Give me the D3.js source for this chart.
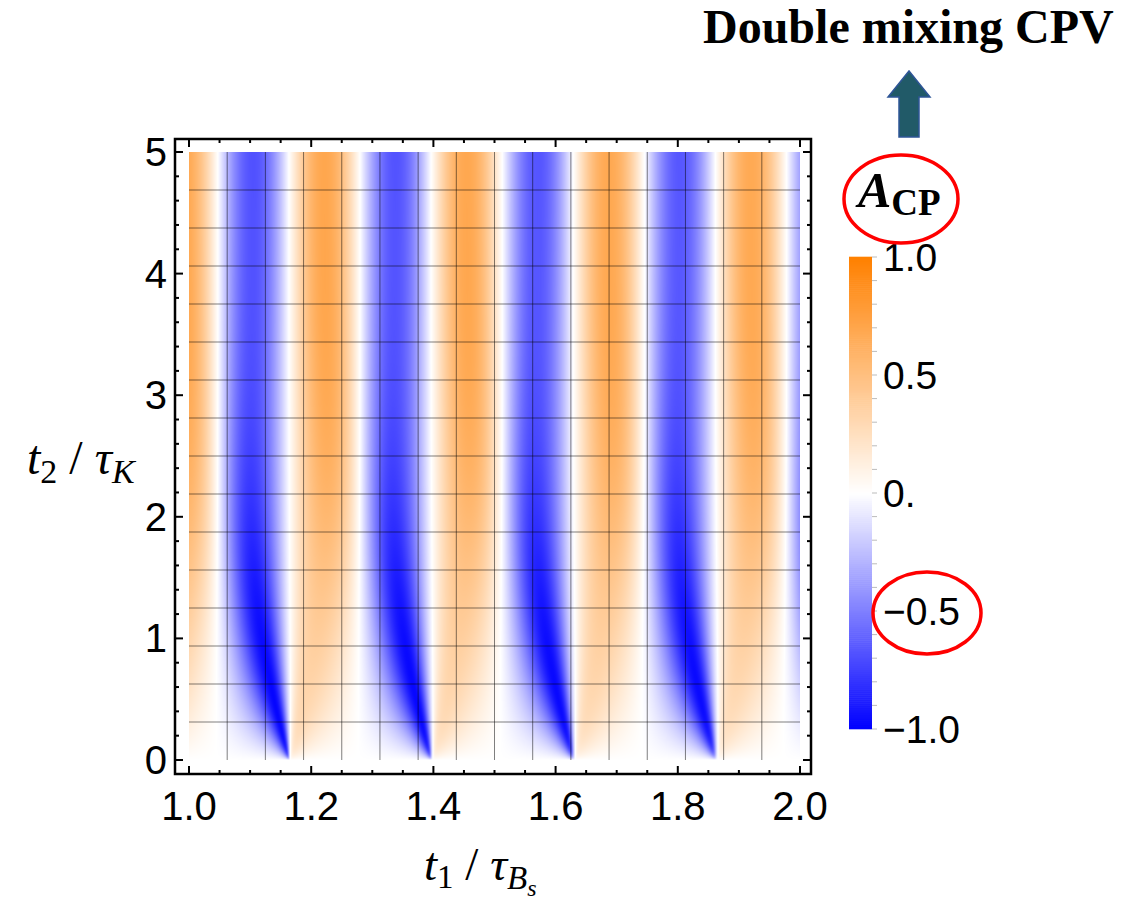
<!DOCTYPE html>
<html><head><meta charset="utf-8">
<script src="https://cdn.jsdelivr.net/npm/d3@7"></script>
<style>body{margin:0;background:#fff} svg{display:block}</style>
</head><body>
<svg width="1130" height="905"></svg>
<script>
// axes, ticks, mesh
const t1Domain = [1, 2];
const t2Domain = [0, 5];
const xMajor = [1.0, 1.2, 1.4, 1.6, 1.8, 2.0];
const xMinor = d3.range(0, 21).map(k => 1 + k * 0.05);
const yMajor = [0, 1, 2, 3, 4, 5];
const yMinor = d3.range(0, 26).map(k => k * 0.2);
const meshT1 = d3.range(1, 16).map(k => 1 + k / 16);
const meshT2 = d3.range(1, 16).map(k => 5 * k / 16);
const cbTicks = [-1, -0.5, 0, 0.5, 1];
const cbLabels = ["\u22121.0", "\u22120.5", "0.", "0.5", "1.0"];
const cbMinor = d3.range(0, 21).map(k => -1 + k * 0.1);

// mixing parameters (stripe spacing, cusp shape)
const xs = 27.0;                    // Bs oscillation, cusps at 2*pi*n/xs
const ys = 0.064;                   // dGamma_s * tau / 2
const gammaS = 1.9965, gammaL = 0.0035, dmK = 0.947;   // kaon, per tau_K
const dPhi = -46.5 * Math.PI / 180;

function acp(t1, t2) {
  const sn = Math.sin(xs * t1), cs = Math.cos(xs * t1);
  const sh = Math.sinh(ys * t1), ch = Math.cosh(ys * t1);
  const eS = Math.exp(-gammaS * t2), eL = Math.exp(-gammaL * t2);
  const eM = Math.exp(-(gammaS + gammaL) / 2 * t2);
  const D = eS - eL, E = eS + eL, C = eM * Math.cos(dmK * t2), S = eM * Math.sin(dmK * t2);
  const num = Math.sin(dPhi) * (sn * D + 2 * sh * S);
  const den = ch * E - 2 * cs * C + Math.cos(dPhi) * (2 * sn * S - sh * D);
  return den > 1e-12 ? Math.max(-1, Math.min(1, num / den)) : 0;
}

const svg = d3.select('svg');
const x = d3.scaleLinear().domain(t1Domain).range([189, 800]);
const y = d3.scaleLinear().domain(t2Domain).range([760, 152]);
const color = d3.scaleLinear().domain([-1, 0, 1]).range(['#0000ff', '#ffffff', '#ff8000']).clamp(true);
const frame = {x0: 175, x1: 811, y0: 139, y1: 774};

// density image
const W = Math.round(x(2) - x(1)), H = Math.round(y(0) - y(5));
const cv = document.createElement('canvas');
cv.width = W; cv.height = H;
const ctx = cv.getContext('2d');
const img = ctx.createImageData(W, H);
const lut = d3.range(0, 2001).map(k => d3.rgb(color(-1 + k / 1000)));
for (let j = 0; j < H; j++) {
  const t2 = y.invert(y(5) + j + 0.5);
  for (let i = 0; i < W; i++) {
    const t1 = x.invert(x(1) + i + 0.5);
    const c = lut[Math.round((acp(t1, t2) + 1) * 1000)];
    const p = (j * W + i) * 4;
    img.data[p] = c.r; img.data[p + 1] = c.g; img.data[p + 2] = c.b; img.data[p + 3] = 255;
  }
}
ctx.putImageData(img, 0, 0);
svg.append('image').attr('x', x(1)).attr('y', y(5)).attr('width', W).attr('height', H)
  .attr('href', cv.toDataURL());

// mesh lines
svg.append('g').selectAll('line').data(meshT1).join('line')
  .attr('x1', d => x(d)).attr('x2', d => x(d)).attr('y1', y(5)).attr('y2', y(0))
  .attr('stroke', '#000').attr('stroke-opacity', 0.5).attr('stroke-width', 1);
svg.append('g').selectAll('line').data(meshT2).join('line')
  .attr('y1', d => y(d)).attr('y2', d => y(d)).attr('x1', x(1)).attr('x2', x(2))
  .attr('stroke', '#000').attr('stroke-opacity', 0.5).attr('stroke-width', 1);

// frame + inward ticks
svg.append('rect').attr('x', frame.x0).attr('y', frame.y0)
  .attr('width', frame.x1 - frame.x0).attr('height', frame.y1 - frame.y0)
  .attr('fill', 'none').attr('stroke', '#000').attr('stroke-width', 2.5);
const tk = svg.append('g').attr('stroke', '#000').attr('stroke-width', 2);
const isMajX = d => xMajor.some(m => Math.abs(m - d) < 1e-6);
const isMajY = d => yMajor.some(m => Math.abs(m - d) < 1e-6);
[frame.y1, frame.y0].forEach((yy, s) => {
  tk.append('g').selectAll('line').data(xMinor).join('line')
    .attr('x1', d => x(d)).attr('x2', d => x(d)).attr('y1', yy)
    .attr('y2', d => yy + (s ? 1 : -1) * (isMajX(d) ? 8 : 4));
});
[frame.x0, frame.x1].forEach((xx, s) => {
  tk.append('g').selectAll('line').data(yMinor).join('line')
    .attr('y1', d => y(d)).attr('y2', d => y(d)).attr('x1', xx)
    .attr('x2', d => xx + (s ? -1 : 1) * (isMajY(d) ? 8 : 4));
});

const tickFont = 'Liberation Sans, Arial, sans-serif';
svg.append('g').selectAll('text').data(xMajor).join('text')
  .attr('x', d => x(d)).attr('y', 820).attr('text-anchor', 'middle')
  .attr('font-family', tickFont).attr('font-size', 40).text(d => d.toFixed(1));
svg.append('g').selectAll('text').data(yMajor).join('text')
  .attr('x', 167).attr('y', d => y(d) + 14).attr('text-anchor', 'end')
  .attr('font-family', tickFont).attr('font-size', 40).text(d => d);

// colour bar
const cb = d3.scaleLinear().domain([-1, 1]).range([729, 257]);
const cbSteps = d3.range(0, 240).map(k => -1 + (k + 0.5) * 2 / 240);
svg.append('g').selectAll('rect').data(cbSteps).join('rect')
  .attr('x', 849).attr('width', 23)
  .attr('y', d => cb(d + 1 / 240) - 0.3).attr('height', cb(-1) - cb(-1 + 2 / 240) + 0.6)
  .attr('fill', d => color(d));
svg.append('g').selectAll('line').data(cbMinor).join('line')
  .attr('x1', 872).attr('x2', 877).attr('y1', d => cb(d)).attr('y2', d => cb(d))
  .attr('stroke', '#bbb').attr('stroke-width', 1);
svg.append('g').selectAll('text').data(cbTicks).join('text')
  .attr('x', 883).attr('y', d => cb(d) + 14)
  .attr('font-family', tickFont).attr('font-size', 39).text((d, i) => cbLabels[i]);

// axis titles
const serif = 'Liberation Serif, Times New Roman, serif';
const xt = svg.append('text').attr('x', 424).attr('y', 880)
  .attr('font-family', serif).attr('font-size', 47);
xt.append('tspan').attr('font-style', 'italic').text('t');
xt.append('tspan').attr('font-size', 33).attr('dy', 8).text('1');
xt.append('tspan').attr('dy', -8).text(' / ');
xt.append('tspan').attr('font-style', 'italic').text('\u03c4');
xt.append('tspan').attr('font-style', 'italic').attr('font-size', 33).attr('dy', 9).text('B');
xt.append('tspan').attr('font-style', 'italic').attr('font-size', 24).attr('dy', 7).text('s');

const yt = svg.append('text').attr('x', 27).attr('y', 474)
  .attr('font-family', serif).attr('font-size', 48);
yt.append('tspan').attr('font-style', 'italic').text('t');
yt.append('tspan').attr('font-size', 34).attr('dy', 9).text('2');
yt.append('tspan').attr('dy', -9).text(' / ');
yt.append('tspan').attr('font-style', 'italic').text('\u03c4');
yt.append('tspan').attr('font-style', 'italic').attr('font-size', 34).attr('dy', 9).text('K');

// annotations
svg.append('text').attr('x', 703).attr('y', 43)
  .attr('font-family', serif).attr('font-weight', 'bold').attr('font-size', 48)
  .text('Double mixing CPV');
svg.append('polygon')
  .attr('points', '909,71 888,97 899,97 899,137 919,137 919,97 930,97')
  .attr('fill', '#215a68').attr('stroke', '#2e5597').attr('stroke-width', 1.5);
svg.append('ellipse').attr('cx', 901).attr('cy', 199).attr('rx', 57).attr('ry', 44)
  .attr('fill', 'none').attr('stroke', '#ff0000').attr('stroke-width', 3.5);
const ac = svg.append('text').attr('x', 858).attr('y', 207)
  .attr('font-family', serif).attr('font-weight', 'bold');
ac.append('tspan').attr('font-style', 'italic').attr('font-size', 50).text('A');
ac.append('tspan').attr('font-size', 37).attr('dy', 8).text('CP');
svg.append('ellipse').attr('cx', 927).attr('cy', 613).attr('rx', 54).attr('ry', 41)
  .attr('fill', 'none').attr('stroke', '#ff0000').attr('stroke-width', 3.5);
</script>
</body></html>
